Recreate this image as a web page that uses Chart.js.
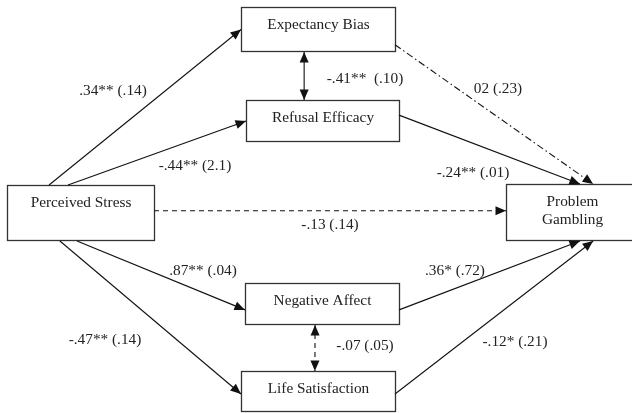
<!DOCTYPE html>
<html>
<head>
<meta charset="utf-8">
<script src="https://cdn.jsdelivr.net/npm/chart.js@4.4.1/dist/chart.umd.min.js"></script>
<style>
  html, body { margin: 0; padding: 0; background: #fff; }
  #wrap { width: 632px; height: 413px; position: relative; }
</style>
</head>
<body>
<div id="wrap"><canvas id="chart" width="632" height="413"></canvas></div>
<script>
// --- diagram data (diagram units = 0..632 x 0..413, y downward) ---
const nodeIds    = ['eb', 're', 'ps', 'pg', 'na', 'ls'];
const nodeLabels = [['Expectancy Bias'], ['Refusal Efficacy'], ['Perceived Stress'], ['Problem', 'Gambling'], ['Negative Affect'], ['Life Satisfaction']];
const nodeLeft   = [241, 246, 7, 506, 245, 241];
const nodeTop    = [7, 100, 185, 184, 283, 371];
const nodeRight  = [395, 399, 154, 638, 399, 395];
const nodeBottom = [52, 142, 241, 241, 325, 412];

// paths: from node / side / position along side, to node / side / position
const edgeFrom     = ['ps', 'ps', 'eb', 'eb', 're', 'ps', 'ps', 'ps', 'na', 'na', 'ls'];
const edgeFromSide = ['top', 'top', 'bottom', 'right', 'right', 'right', 'bottom', 'bottom', 'bottom', 'right', 'right'];
const edgeFromPos  = [0.286, 0.415, 0.41, 0.84, 0.36, 0.46, 0.476, 0.36, 0.455, 0.64, 0.56];
const edgeTo       = ['eb', 're', 're', 'pg', 'pg', 'pg', 'na', 'ls', 'ls', 'pg', 'pg'];
const edgeToSide   = ['left', 'left', 'top', 'top', 'top', 'left', 'left', 'left', 'top', 'bottom', 'bottom'];
const edgeToPos    = [0.5, 0.5, 0.38, 0.66, 0.56, 0.47, 0.64, 0.56, 0.48, 0.56, 0.66];
const edgeCoef     = ['.34** (.14)', '-.44** (2.1)', '-.41**  (.10)', '02 (.23)', '-.24** (.01)', '-.13 (.14)',
                      '.87** (.04)', '-.47** (.14)', '-.07 (.05)', '.36* (.72)', '-.12* (.21)'];
const edgeKind     = ['solid', 'solid', 'solid', 'dashdot', 'solid', 'dashed', 'solid', 'solid', 'dashed', 'solid', 'solid'];
const edgeBoth     = [false, false, true, false, false, false, false, false, true, false, false];

// coefficient label anchors (layout)
const coefX = [113, 195, 365, 498, 473, 330, 203, 105, 365, 455, 515];
const coefY = [91, 166, 79, 89, 173, 225, 271, 340, 346, 271, 342];

const FONT = '15.3px "Liberation Serif", "Times New Roman", serif';
const INK = '#111';
const dashes = { solid: [], dashed: [5, 4], dashdot: [7, 3, 1.5, 3] };

function anchor(id, side, t) {
  const i = nodeIds.indexOf(id);
  const l = nodeLeft[i], r = nodeRight[i], tp = nodeTop[i], b = nodeBottom[i];
  if (side === 'top') return { x: l + (r - l) * t, y: tp };
  if (side === 'bottom') return { x: l + (r - l) * t, y: b };
  if (side === 'left') return { x: l, y: tp + (b - tp) * t };
  return { x: r, y: tp + (b - tp) * t };
}

const datasets = edgeFrom.map((f, i) => ({
  label: edgeCoef[i],
  data: [anchor(f, edgeFromSide[i], edgeFromPos[i]), anchor(edgeTo[i], edgeToSide[i], edgeToPos[i])],
  showLine: true,
  borderColor: INK,
  borderWidth: 1.1,
  borderDash: dashes[edgeKind[i]],
  pointRadius: 0,
  pointHoverRadius: 0,
  fill: false,
  clip: false
}));

function arrowHead(ctx, from, to) {
  const ang = Math.atan2(to.y - from.y, to.x - from.x);
  const len = 10.5, half = 4.5;
  ctx.save();
  ctx.translate(to.x, to.y);
  ctx.rotate(ang);
  ctx.beginPath();
  ctx.moveTo(0, 0);
  ctx.lineTo(-len, -half);
  ctx.lineTo(-len, half);
  ctx.closePath();
  ctx.fillStyle = INK;
  ctx.fill();
  ctx.restore();
}

const diagramPlugin = {
  id: 'diagram',
  beforeDatasetsDraw(chart) {
    const { ctx, scales: { x, y } } = chart;
    ctx.save();
    ctx.strokeStyle = '#333';
    ctx.lineWidth = 1.3;
    ctx.font = FONT;
    ctx.textAlign = 'center';
    ctx.textBaseline = 'middle';
    nodeIds.forEach((id, i) => {
      const l = Math.round(x.getPixelForValue(nodeLeft[i])) + 0.5;
      const r = Math.round(x.getPixelForValue(nodeRight[i])) + 0.5;
      const t = Math.round(y.getPixelForValue(nodeTop[i])) + 0.5;
      const b = Math.round(y.getPixelForValue(nodeBottom[i])) - 0.5;
      ctx.fillStyle = '#fff';
      ctx.fillRect(l, t, r - l, b - t);
      ctx.strokeRect(l, t, r - l, b - t);
      ctx.fillStyle = '#222';
      const cx = (l + r) / 2;
      nodeLabels[i].forEach((line, k) => {
        ctx.fillText(line, cx, t + 17 + k * 18);
      });
    });
    ctx.restore();
  },
  afterDatasetsDraw(chart) {
    const { ctx, scales: { x, y } } = chart;
    chart.data.datasets.forEach((ds, i) => {
      const p0 = { x: x.getPixelForValue(ds.data[0].x), y: y.getPixelForValue(ds.data[0].y) };
      const p1 = { x: x.getPixelForValue(ds.data[1].x), y: y.getPixelForValue(ds.data[1].y) };
      arrowHead(ctx, p0, p1);
      if (edgeBoth[i]) arrowHead(ctx, p1, p0);
    });
    ctx.save();
    ctx.font = FONT;
    ctx.fillStyle = '#222';
    ctx.textAlign = 'center';
    ctx.textBaseline = 'middle';
    edgeCoef.forEach((txt, i) => {
      ctx.fillText(txt, x.getPixelForValue(coefX[i]), y.getPixelForValue(coefY[i]));
    });
    ctx.restore();
  }
};

new Chart(document.getElementById('chart'), {
  type: 'scatter',
  data: { datasets },
  options: {
    responsive: false,
    animation: false,
    events: [],
    layout: { padding: 0 },
    plugins: { legend: { display: false }, tooltip: { enabled: false } },
    scales: {
      x: { type: 'linear', min: 0, max: 632, display: false },
      y: { type: 'linear', min: 0, max: 413, reverse: true, display: false }
    }
  },
  plugins: [diagramPlugin]
});
</script>
</body>
</html>
